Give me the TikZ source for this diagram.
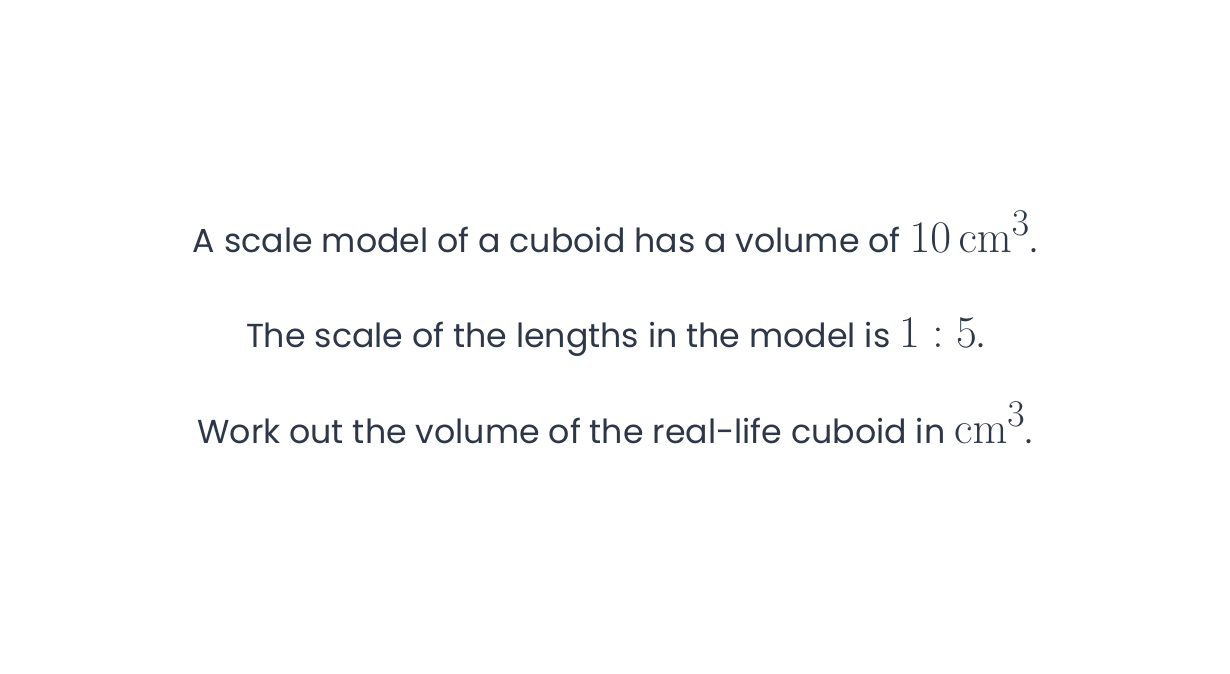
\documentclass[tikz,border=0pt]{standalone}
\usepackage{graphicx}
\usepackage[no-math]{fontspec}
\setmainfont{Poppins}
\definecolor{txt}{HTML}{2D3748}
\newcommand\mth[1]{\scalebox{1.36}{$#1$}}
\begin{document}
\begin{tikzpicture}[x=1pt,y=1pt,
  line/.style={anchor=base,inner sep=0pt,text=txt,scale=1.335,transform shape,font=\fontsize{24.88}{30}\selectfont}]
\useasboundingbox[fill=white] (0,0) rectangle (1230,673);
\node[line] (l1) at (615,673-252) {A scale model of a cuboid has a volume of \mth{10\,\mathrm{cm}^3}.};
\node[line] (l2) at (615,673-347) {The scale of the lengths in the model is \mth{1:5}.};
\node[line] (l3) at (615,673-443) {Work out the volume of the real-life cuboid in \mth{\mathrm{cm}^3}.};
\end{tikzpicture}
\end{document}
